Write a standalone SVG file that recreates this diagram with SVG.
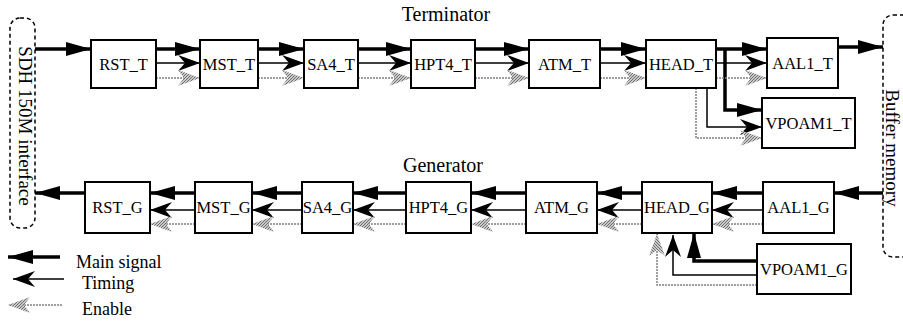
<svg xmlns="http://www.w3.org/2000/svg" width="903" height="321" viewBox="0 0 903 321">
<style>
.box{fill:#fff;stroke:#000;stroke-width:2}
.lbl{font-family:"Liberation Serif",serif;font-size:16.5px;text-anchor:middle;fill:#000}
.title{font-family:"Liberation Serif",serif;font-size:20px;text-anchor:middle;fill:#000}
.side{font-family:"Liberation Serif",serif;font-size:19px;text-anchor:middle;fill:#000}
.leg{font-family:"Liberation Serif",serif;font-size:18px;fill:#000}
.main{stroke:#000;stroke-width:3.5;fill:none;marker-end:url(#mMain)}
.tim{stroke:#000;stroke-width:1.5;fill:none;marker-end:url(#mTim)}
.en{stroke:#808080;stroke-width:1.5;stroke-dasharray:2 1;fill:none;marker-end:url(#mEn)}
.dash{fill:none;stroke:#000;stroke-width:1.5;stroke-dasharray:4 3}
</style>
<defs>
<pattern id="hatch" width="3" height="3" patternUnits="userSpaceOnUse"><rect width="3" height="3" fill="#c8c8c8"/><path d="M0,3 L3,0" stroke="#707070" stroke-width="1"/></pattern>
<marker id="mMain" markerUnits="userSpaceOnUse" markerWidth="26" markerHeight="14" refX="25" refY="7" orient="auto" overflow="visible"><path d="M0,0 L25,7 L0,14 Z" fill="#000"/></marker>
<marker id="mTim" markerUnits="userSpaceOnUse" markerWidth="22" markerHeight="16" refX="22" refY="8" orient="auto" overflow="visible"><path d="M0,0 L22,8 L0,16 L7,8 Z" fill="#000"/></marker>
<marker id="mEn" markerUnits="userSpaceOnUse" markerWidth="22" markerHeight="16" refX="22" refY="8" orient="auto" overflow="visible"><path d="M0,0 L22,8 L0,16 L6,8 Z" fill="url(#hatch)"/></marker>
</defs>
<rect width="903" height="321" fill="#fff"/>

<g id="sdh-interface">
<rect class="dash" x="10" y="18" width="25" height="210" rx="10"/>
<text class="side" transform="translate(19,126) rotate(90)" font-size="20">SDH 150M interface</text>
</g>
<g id="buffer-memory">
<rect class="dash" x="883" y="15" width="40" height="242" rx="10"/>
<text class="side" transform="translate(886,148) rotate(90)">Buffer memory</text>
</g>

<text class="title" x="446" y="21">Terminator</text>
<text class="title" x="443" y="172">Generator</text>

<g id="connectors">
<line class="main" x1="35" y1="49" x2="91" y2="49"/>
<line class="main" x1="156" y1="49" x2="200" y2="49"/>
<line class="main" x1="258" y1="49" x2="304" y2="49"/>
<line class="main" x1="358" y1="49" x2="411" y2="49"/>
<line class="main" x1="475" y1="49" x2="529" y2="49"/>
<line class="main" x1="600" y1="49" x2="646" y2="49"/>
<line class="main" x1="716" y1="49" x2="767" y2="49"/>
<line class="main" x1="838" y1="47" x2="883" y2="47"/>
<polyline class="main" points="725,49 725,110 762,110"/>
<line class="tim" x1="156" y1="63" x2="200" y2="63"/>
<line class="tim" x1="258" y1="63" x2="304" y2="63"/>
<line class="tim" x1="358" y1="63" x2="411" y2="63"/>
<line class="tim" x1="475" y1="63" x2="529" y2="63"/>
<line class="tim" x1="600" y1="63" x2="646" y2="63"/>
<line class="tim" x1="716" y1="63" x2="767" y2="63"/>
<polyline class="tim" points="707,88 707,127 762,127"/>
<line class="en" x1="156" y1="78" x2="200" y2="78"/>
<line class="en" x1="258" y1="78" x2="304" y2="78"/>
<line class="en" x1="358" y1="78" x2="411" y2="78"/>
<line class="en" x1="475" y1="78" x2="529" y2="78"/>
<line class="en" x1="600" y1="78" x2="646" y2="78"/>
<line class="en" x1="716" y1="78" x2="767" y2="78"/>
<polyline class="en" points="696,88 696,138 762,138"/>

<line class="main" x1="883" y1="193" x2="834" y2="193"/>
<line class="main" x1="763" y1="193" x2="712" y2="193"/>
<line class="main" x1="642" y1="193" x2="597" y2="193"/>
<line class="main" x1="526" y1="193" x2="471" y2="193"/>
<line class="main" x1="406" y1="193" x2="353" y2="193"/>
<line class="main" x1="302" y1="193" x2="252" y2="193"/>
<line class="main" x1="195" y1="193" x2="150" y2="193"/>
<line class="main" x1="85" y1="193" x2="35" y2="193"/>
<polyline class="main" points="757,261 694,261 694,233"/>
<line class="tim" x1="763" y1="210" x2="712" y2="210"/>
<line class="tim" x1="642" y1="210" x2="597" y2="210"/>
<line class="tim" x1="526" y1="210" x2="471" y2="210"/>
<line class="tim" x1="406" y1="210" x2="353" y2="210"/>
<line class="tim" x1="302" y1="210" x2="252" y2="210"/>
<line class="tim" x1="195" y1="210" x2="150" y2="210"/>
<polyline class="tim" points="757,275 673,275 673,235"/>
<line class="en" x1="763" y1="224" x2="712" y2="224"/>
<line class="en" x1="642" y1="224" x2="597" y2="224"/>
<line class="en" x1="526" y1="224" x2="471" y2="224"/>
<line class="en" x1="406" y1="224" x2="353" y2="224"/>
<line class="en" x1="302" y1="224" x2="252" y2="224"/>
<line class="en" x1="195" y1="224" x2="150" y2="224"/>
<polyline class="en" points="757,285 657,285 657,234"/>
</g>

<g id="RST_T"><rect class="box" x="91" y="40" width="65" height="48"/><text class="lbl" x="123.5" y="70">RST_T</text></g>
<g id="MST_T"><rect class="box" x="200" y="40" width="58" height="48"/><text class="lbl" x="229" y="70">MST_T</text></g>
<g id="SA4_T"><rect class="box" x="304" y="40" width="54" height="48"/><text class="lbl" x="331" y="70">SA4_T</text></g>
<g id="HPT4_T"><rect class="box" x="411" y="40" width="64" height="48"/><text class="lbl" x="443" y="70">HPT4_T</text></g>
<g id="ATM_T"><rect class="box" x="529" y="40" width="71" height="48"/><text class="lbl" x="564.5" y="70">ATM_T</text></g>
<g id="HEAD_T"><rect class="box" x="646" y="40" width="70" height="48"/><text class="lbl" x="681" y="70">HEAD_T</text></g>
<g id="AAL1_T"><rect class="box" x="767" y="38" width="71" height="50"/><text class="lbl" x="802.5" y="69">AAL1_T</text></g>
<g id="VPOAM1_T"><rect class="box" x="762" y="98" width="93" height="50"/><text class="lbl" x="808.5" y="129">VPOAM1_T</text></g>

<g id="RST_G"><rect class="box" x="85" y="182" width="65" height="51"/><text class="lbl" x="117.5" y="213">RST_G</text></g>
<g id="MST_G"><rect class="box" x="195" y="182" width="57" height="51"/><text class="lbl" x="223.5" y="213">MST_G</text></g>
<g id="SA4_G"><rect class="box" x="302" y="182" width="51" height="51"/><text class="lbl" x="327.5" y="213">SA4_G</text></g>
<g id="HPT4_G"><rect class="box" x="406" y="182" width="65" height="51"/><text class="lbl" x="438.5" y="213">HPT4_G</text></g>
<g id="ATM_G"><rect class="box" x="526" y="182" width="71" height="51"/><text class="lbl" x="561.5" y="213">ATM_G</text></g>
<g id="HEAD_G"><rect class="box" x="642" y="182" width="70" height="51"/><text class="lbl" x="677" y="213">HEAD_G</text></g>
<g id="AAL1_G"><rect class="box" x="763" y="182" width="71" height="51"/><text class="lbl" x="798.5" y="213">AAL1_G</text></g>
<g id="VPOAM1_G"><rect class="box" x="757" y="244" width="94" height="50"/><text class="lbl" x="804" y="275">VPOAM1_G</text></g>

<g id="legend">
<line class="main" x1="60" y1="257" x2="8" y2="257"/>
<text class="leg" x="76" y="268">Main signal</text>
<line class="tim" x1="64" y1="279" x2="13" y2="279"/>
<text class="leg" x="82" y="289">Timing</text>
<line class="en" x1="62" y1="305" x2="8" y2="305"/>
<text class="leg" x="82" y="315">Enable</text>
</g>
</svg>
